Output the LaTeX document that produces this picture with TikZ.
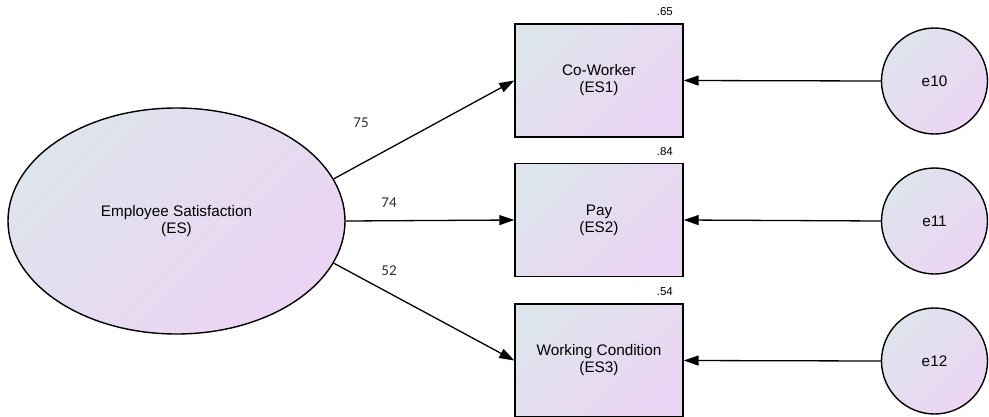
\documentclass[tikz,border=0pt]{standalone}
\usepackage{fontspec}
\setmainfont{Liberation Sans}
\newfontfamily\coeffont{Carlito}
\usetikzlibrary{arrows.meta,shapes.geometric}

\definecolor{shadeA}{RGB}{222,228,236}
\definecolor{shadeB}{RGB}{236,212,244}
\definecolor{coefcol}{RGB}{40,48,60}

\tikzset{
  fillgrad/.style={top color=shadeA, bottom color=shadeB, shading angle=45},
  observed/.style={draw=black, line width=1.4pt, fillgrad, rectangle,
    minimum width=168pt, minimum height=113pt, inner sep=0pt,
    align=center, font=\fontsize{15.3}{17}\selectfont},
  latent/.style={draw=black, line width=1.4pt, fillgrad, ellipse,
    minimum width=337pt, minimum height=226pt, inner sep=0pt,
    align=center, font=\fontsize{15.3}{17}\selectfont},
  errorvar/.style={draw=black, line width=1.4pt, fillgrad, circle,
    minimum size=106pt, inner sep=0pt, font=\fontsize{15.3}{17}\selectfont},
  rsq/.style={font=\fontsize{11.5}{12}\selectfont, anchor=east, inner sep=0pt},
  coef/.style={font=\coeffont\fontsize{15}{16}\selectfont, text=coefcol, inner sep=0pt},
  path/.style={line width=1.3pt, -{Triangle[length=15pt,width=10pt]}},
}

\begin{document}
\begin{tikzpicture}[x=1pt,y=-1pt]
  \useasboundingbox (0,0) rectangle (989,416);

  % latent factor
  \node[latent] (es) at (176.5,221) {Employee Satisfaction\\(ES)};

  % indicators
  \node[observed] (b1) at (599,80.5) {Co-Worker\\(ES1)};
  \node[observed] (b2) at (599,220) {Pay\\(ES2)};
  \node[observed] (b3) at (599,360.5) {Working Condition\\(ES3)};

  % squared multiple correlations
  \node[rsq] (r1) at (673,12) {.65};
  \node[rsq] (r2) at (673,152) {.84};
  \node[rsq] (r3) at (673,292) {.54};

  % error terms
  \node[errorvar] (e10) at (934.5,81) {e10};
  \node[errorvar] (e11) at (934.5,221) {e11};
  \node[errorvar] (e12) at (934.5,361) {e12};

  % loadings
  \draw[path] (es.15) -- (b1.west);
  \draw[path] (es.east) -- (b2.west);
  \draw[path] (es.-15) -- (b3.west);

  \node[coef] (c1) at (361,123) {75};
  \node[coef] (c2) at (389,203) {74};
  \node[coef] (c3) at (389,271) {52};

  % error paths
  \draw[path] (e10.west) -- (b1.east);
  \draw[path] (e11.west) -- (b2.east);
  \draw[path] (e12.west) -- (b3.east);
\end{tikzpicture}
\end{document}
